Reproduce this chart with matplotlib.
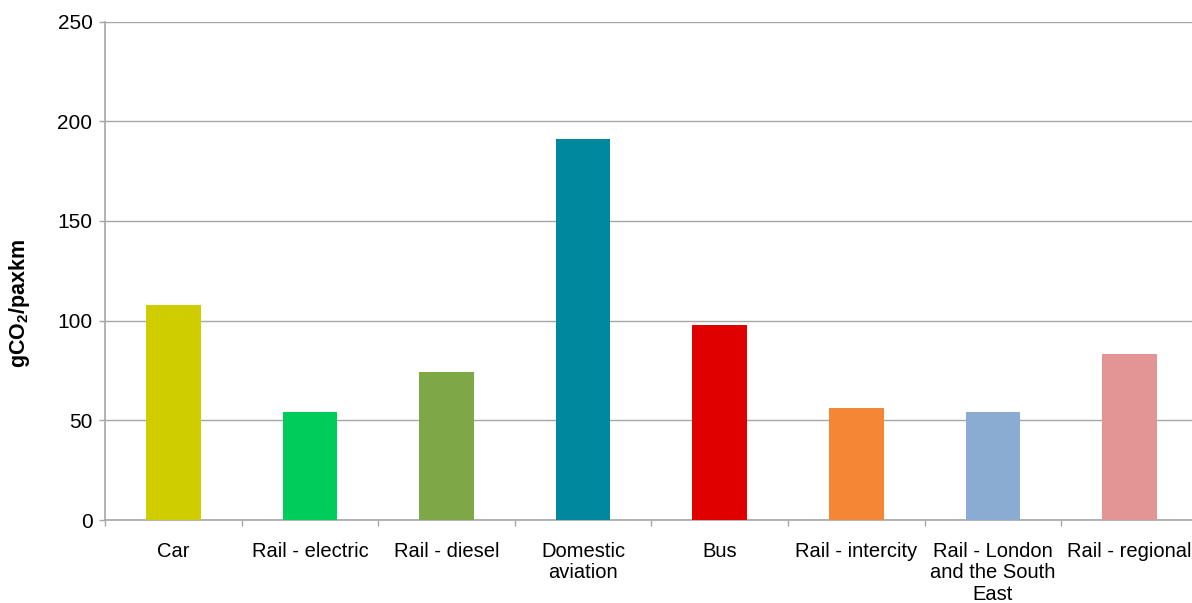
import matplotlib
matplotlib.use("Agg")
import matplotlib.pyplot as plt
import numpy as np

plt.rcParams['font.family'] = ['Liberation Sans', 'DejaVu Sans']
plt.rcParams['mathtext.fontset'] = 'custom'
plt.rcParams['mathtext.rm'] = 'Liberation Sans'
plt.rcParams['mathtext.bf'] = 'Liberation Sans:bold'

categories = ["Car", "Rail - electric", "Rail - diesel", "Domestic\naviation", "Bus",
              "Rail - intercity", "Rail - London\nand the South\nEast", "Rail - regional"]
values = [108, 54, 74, 191, 98, 56, 54, 83]
colors = ["#CFCD00", "#00CC5C", "#7EA848", "#00889E", "#E00000",
          "#F58636", "#8BACD2", "#E39494"]
yticks = [0, 50, 100, 150, 200, 250]

fig = plt.figure(figsize=(11.92, 6.03), dpi=100)
ax = fig.add_axes([105/1192, 83/603, 8*136.6/1192, 498.5/603])

x = np.arange(len(categories))
ax.bar(x, values, width=0.40, color=colors, zorder=3)

ax.set_xlim(-0.5, len(categories) - 0.5)
ax.set_ylim(0, 250)
ax.set_yticks(yticks)
ax.yaxis.grid(True, color="#A6A6A6", linewidth=1.0, zorder=0)

# category separators as major ticks, labels on minor ticks
ax.set_xticks(np.arange(-0.5, len(categories), 1.0))
ax.set_xticklabels([])
ax.set_xticks(x, minor=True)
ax.set_xticklabels(categories, minor=True, fontsize=14.5, linespacing=1.15, va="top")
ax.tick_params(axis="x", which="major", length=4.5, color="#A6A6A6", width=1)
ax.tick_params(axis="x", which="minor", length=0, pad=16)
ax.tick_params(axis="y", length=4.5, color="#A6A6A6", width=1, labelsize=15, pad=4.5)

for s in ["top", "right"]:
    ax.spines[s].set_visible(False)
for s in ["left", "bottom"]:
    ax.spines[s].set_color("#A6A6A6")
    ax.spines[s].set_linewidth(1.2)

ax.set_ylabel(r"gCO$_\mathbf{2}$/paxkm", fontsize=15.5, fontweight="bold",
              va="center", ha="center")
ax.yaxis.set_label_coords((20 - 105) / (8 * 136.6), (520 - 303) / 498.5)

fig.savefig("out.png", dpi=100)
